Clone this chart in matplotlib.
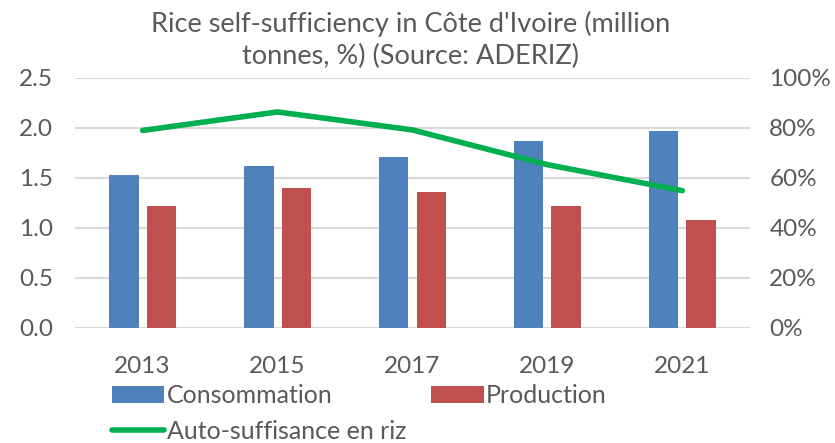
import matplotlib.pyplot as plt
import numpy as np

plt.rcParams['font.family'] = ['Lato', 'DejaVu Sans']

years = ['2013', '2015', '2017', '2019', '2021']
consommation = [1.53, 1.62, 1.71, 1.87, 1.97]
production = [1.22, 1.40, 1.36, 1.22, 1.08]
autosuffisance = [79.0, 86.4, 79.2, 65.3, 54.9]   # %

grey = '#595959'
blue = '#4f81bd'
red = '#c0504d'
green = '#00b050'

fig = plt.figure(figsize=(8.35, 4.43), dpi=100)
ax = fig.add_axes([0.09, 0.26, 0.808, 0.564])

x = np.arange(len(years))
w = 0.22
b1 = ax.bar(x - 0.14, consommation, w, color=blue, label='Consommation', zorder=3)
b2 = ax.bar(x + 0.14, production, w, color=red, label='Production', zorder=3)

ax.set_xlim(-0.5, len(years) - 0.5)
ax.set_ylim(0, 2.5)
ax.set_yticks(np.arange(0, 2.51, 0.5))
ax.set_yticklabels([f'{v:.1f}' for v in np.arange(0, 2.51, 0.5)])
ax.set_xticks(x)
ax.set_xticklabels(years)
ax.yaxis.grid(True, color='#d9d9d9', linewidth=1.5, zorder=0)
ax.set_axisbelow(True)
for s in ax.spines.values():
    s.set_visible(False)
ax.tick_params(axis='both', length=0, labelsize=17.5, colors=grey)
ax.tick_params(axis='x', pad=20)
ax.tick_params(axis='y', pad=16)

ax2 = ax.twinx()
l1, = ax2.plot(x, autosuffisance, color=green, linewidth=4, label='Auto-suffisance en riz',
               solid_capstyle='round', zorder=4)
ax2.set_ylim(0, 100)
ax2.set_yticks(np.arange(0, 101, 20))
ax2.set_yticklabels([f'{v}%' for v in range(0, 101, 20)])
for s in ax2.spines.values():
    s.set_visible(False)
ax2.tick_params(axis='y', length=0, labelsize=17.5, colors=grey, pad=14)

fig.suptitle("Rice self-sufficiency in Côte d'Ivoire (million\ntonnes, %) (Source: ADERIZ)",
             x=0.492, y=0.975, fontsize=19.5, color=grey, linespacing=1.35)

fig.legend([b1, l1, b2], ['Consommation', 'Auto-suffisance en riz', 'Production'],
           ncol=2, loc='upper left', bbox_to_anchor=(0.122, 0.155), frameon=False,
           fontsize=18, labelcolor=grey, handlelength=2.1, handletextpad=0.1,
           columnspacing=1.0, borderaxespad=0, labelspacing=0.5)

fig.savefig('out.png', dpi=100)
